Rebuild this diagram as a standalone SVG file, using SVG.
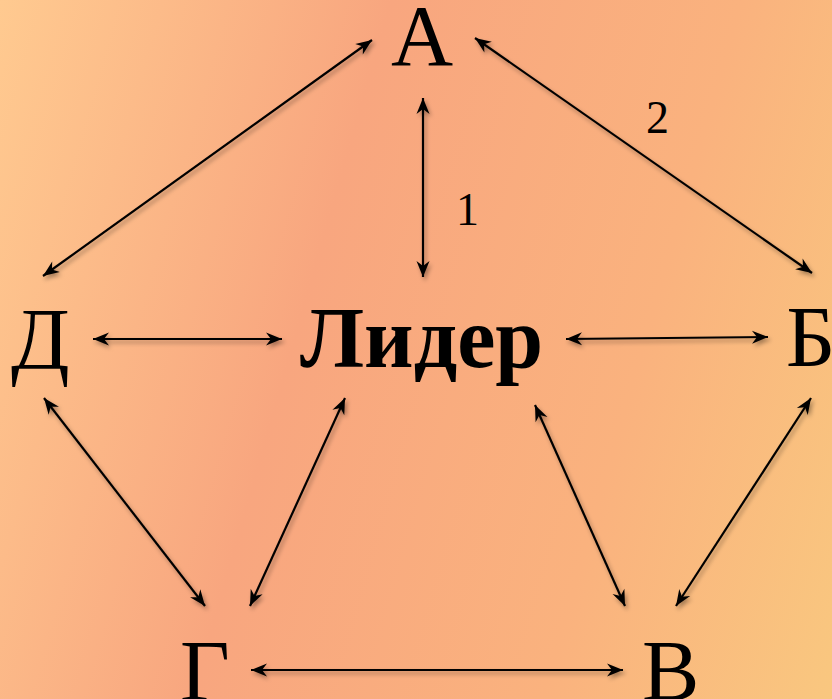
<svg xmlns="http://www.w3.org/2000/svg" width="832" height="699" viewBox="0 0 832 699">
<style>
.lbl{font-family:"Liberation Serif","Times New Roman",serif;fill:#000}
.node{font-size:86px}
.num{font-size:46px}
.edge{stroke:#000;stroke-width:2.2;fill:none;marker-start:url(#ah);marker-end:url(#ah)}
</style>
<defs>
<linearGradient id="bg" gradientUnits="userSpaceOnUse" x1="0" y1="0" x2="953" y2="272">
<stop offset="0" stop-color="#FFCA90"/>
<stop offset="0.38" stop-color="#F8A67F"/>
<stop offset="0.72" stop-color="#FAB27E"/>
<stop offset="1" stop-color="#F9C77F"/>
</linearGradient>
<marker id="ah" viewBox="-18 -8 20 16" refX="0" refY="0" markerWidth="20" markerHeight="16" markerUnits="userSpaceOnUse" orient="auto-start-reverse">
<path d="M0,0 L-16,-6.5 L-11,0 L-16,6.5 Z" fill="#000"/>
</marker>
<filter id="sh" x="-20%" y="-20%" width="140%" height="140%">
<feDropShadow dx="2" dy="3" stdDeviation="2" flood-color="#000" flood-opacity="0.35"/>
</filter>
</defs>
<rect width="832" height="699" fill="url(#bg)"/>
<g id="connectors" filter="url(#sh)">
<line class="edge" x1="372" y1="40" x2="43" y2="276"/>
<line class="edge" x1="423" y1="98" x2="423" y2="277"/>
<line class="edge" x1="475" y1="38" x2="812" y2="273"/>
<line class="edge" x1="93" y1="339" x2="282" y2="339"/>
<line class="edge" x1="566" y1="339" x2="768" y2="337"/>
<line class="edge" x1="44" y1="398" x2="205" y2="606"/>
<line class="edge" x1="345" y1="398" x2="250" y2="606"/>
<line class="edge" x1="535" y1="405" x2="625" y2="606"/>
<line class="edge" x1="811" y1="398" x2="676" y2="606"/>
<line class="edge" x1="251" y1="670" x2="623" y2="670"/>
</g>
<g id="labels">
<text class="lbl num" x="456" y="225">1</text>
<text class="lbl num" x="646" y="133">2</text>
</g>
<g id="node-A"><text class="lbl node" x="422" y="65" text-anchor="middle">А</text></g>
<g id="node-D"><text class="lbl node" x="11" y="368">Д</text></g>
<g id="node-leader"><text class="lbl node" x="300" y="367" font-weight="bold">Лидер</text></g>
<g id="node-B"><text class="lbl node" x="786" y="366">Б</text></g>
<g id="node-G"><text class="lbl node" x="180" y="700">Г</text></g>
<g id="node-V"><text class="lbl node" x="642" y="700">В</text></g>
</svg>
